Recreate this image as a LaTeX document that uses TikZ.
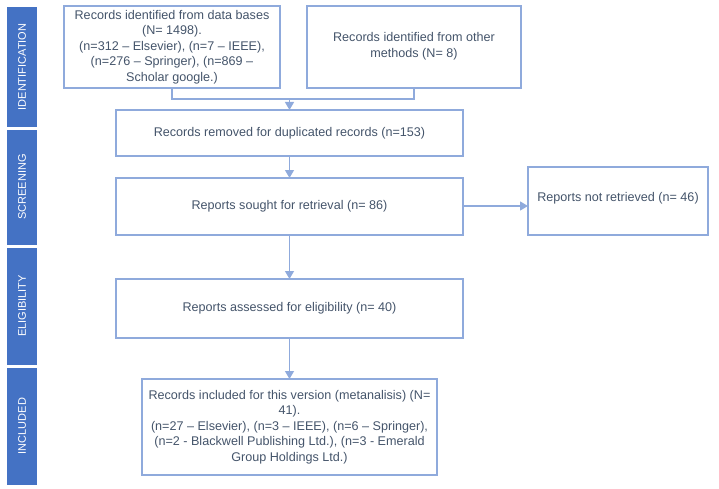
\documentclass[tikz,border=0pt]{standalone}
\usepackage{fontspec}
\setmainfont{Liberation Sans}
\usetikzlibrary{arrows.meta}
\definecolor{bar}{HTML}{4472C4}
\definecolor{bd}{HTML}{8FAADC}
\definecolor{tx}{HTML}{44546A}
\definecolor{ar}{HTML}{8FAADC}
\begin{document}
\begin{tikzpicture}[x=1pt,y=-1pt,
 box/.style={text=tx,align=center,font=\fontsize{12.6}{15.6}\selectfont,inner sep=2pt},
 side/.style={fill=bar,text=white,font=\fontsize{11}{12}\selectfont,rotate=90,anchor=center},
 arr/.style={draw=ar,line width=1.3pt,-{Triangle[width=9pt,length=8pt]}},
 ln/.style={draw=ar,line width=1.3pt}]
\useasboundingbox (0,0) rectangle (719,489);
\fill[bar] (7,7) rectangle (37,127);
\fill[bar] (7,130) rectangle (37,245);
\fill[bar] (7,248) rectangle (37,365);
\fill[bar] (7,368) rectangle (37,485);
\node[side,text=white] (s1) at (22,67) {IDENTIFICATION};
\node[side] (s2) at (22,187) {SCREENING};
\node[side] (s3) at (22,306) {ELIGIBILITY};
\node[side] (s4) at (22,426) {INCLUDED};
\draw[bd,line width=1.5pt] (64,6) rectangle (280,88);
\node[box] (b1) at (172,47) {Records identified from data bases\\(N= 1498).\\(n=312 -- Elsevier), (n=7 -- IEEE),\\(n=276 -- Springer), (n=869 --\\Scholar google.)};
\draw[bd,line width=1.5pt] (307,6) rectangle (521,88);
\node[box] (b2) at (414,46) {Records identified from other\\methods (N= 8)};
\draw[bd,line width=1.5pt] (116,110) rectangle (463,156);
\node[box] (b3) at (289.5,133) {Records removed for duplicated records (n=153)};
\draw[bd,line width=1.5pt] (116,178) rectangle (463,235);
\node[box] (b4) at (289.5,206) {Reports sought for retrieval (n= 86)};
\draw[bd,line width=1.5pt] (528,167) rectangle (708,235);
\node[box] (b5) at (618,198) {Reports not retrieved (n= 46)};
\draw[bd,line width=1.5pt] (116,279) rectangle (463,338);
\node[box] (b6) at (289.5,308) {Reports assessed for eligibility (n= 40)};
\draw[bd,line width=1.5pt] (142,379) rectangle (437,475);
\node[box] (b7) at (289.5,427) {Records included for this version (metanalisis) (N=\\41).\\(n=27 -- Elsevier), (n=3 -- IEEE), (n=6 -- Springer),\\(n=2 - Blackwell Publishing Ltd.), (n=3 - Emerald\\Group Holdings Ltd.)};
\coordinate (j1) at (172,99);
\coordinate (j2) at (414,99);
\coordinate (j3) at (289.5,99);
\draw[ln] (172,88) -- (j1) -- (j2) -- (414,88);
\draw[arr] (j3) -- (289.5,110);
\draw[arr] (289.5,156) -- (289.5,178);
\draw[arr] (463,206) -- (528,206);
\draw[arr] (289.5,235) -- (289.5,279);
\draw[arr] (289.5,338) -- (289.5,379);
\end{tikzpicture}
\end{document}
